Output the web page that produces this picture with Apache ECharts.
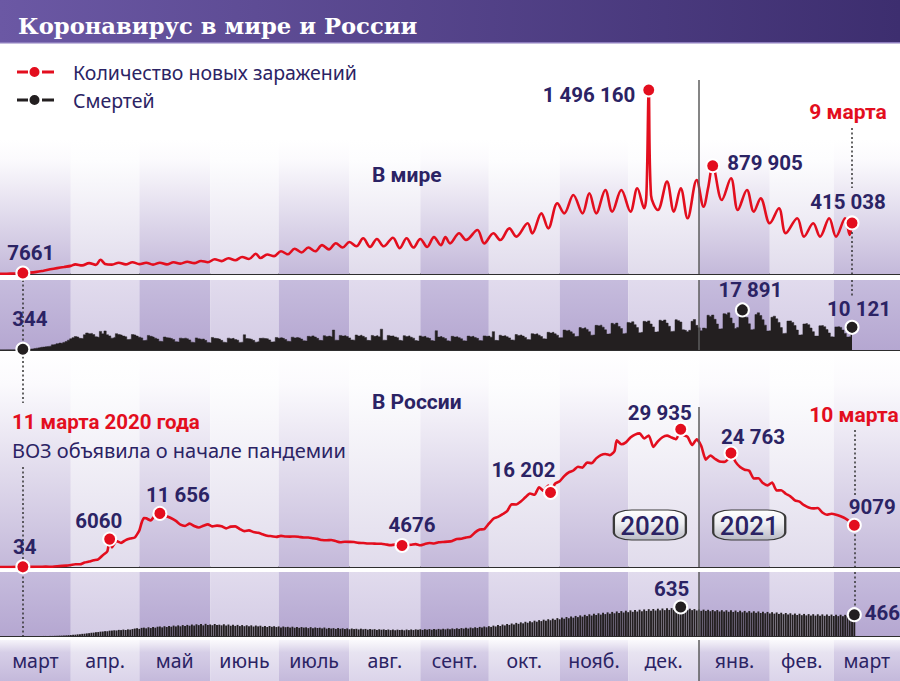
<!DOCTYPE html>
<html><head><meta charset="utf-8">
<script src="https://cdn.jsdelivr.net/npm/echarts@6/dist/echarts.min.js"></script>
<style>html,body{margin:0;padding:0;background:#fff}#c{width:900px;height:681px}</style>
</head><body><div id="c"></div>
<script>
// x values are day numbers counted from 1 March 2020 (day 0)
const monthNames = ['март','апр.','май','июнь','июль','авг.','сент.','окт.','нояб.','дек.','янв.','фев.','март'];
const monthStartDays = [0,31,61,92,122,153,184,214,245,275,306,337,365,394];
const yearStartDay = 306;      // 1 January 2021
const whoDay = 10;             // 11 March 2020
const lastWorldDay = 373;      // 9 March 2021
const lastRussiaDay = 374;     // 10 March 2021
const yearLabels = [['2020', 284.5], ['2021', 328]];

// World: new cases per day [day, cases]
const worldCases = [[0,1600],[3,2400],[6,3800],[8,4300],[10,7661],[13,11000],[16,17000],[19,27000],[22,38000],[25,48000],[28,57000],[31,66000],[33,78000],[36,70000],[39,88000],[42,74000],[44,116000],[46,82000],[49,76000],[52,92000],[55,78000],[58,96000],[61,80000],[64,92000],[67,76000],[70,92000],[73,78000],[76,96000],[79,84000],[82,100000],[85,88000],[88,106000],[91,96000],[94,120000],[97,105000],[100,128000],[103,112000],[106,138000],[109,122000],[112,165000],[114,130000],[117,158000],[120,145000],[123,185000],[126,160000],[129,205000],[132,175000],[135,215000],[138,185000],[141,235000],[144,200000],[147,250000],[150,215000],[153,260000],[156,225000],[159,290000],[162,220000],[165,285000],[168,225000],[172,295000],[175,210000],[178,290000],[181,215000],[184,285000],[187,220000],[190,300000],[193,235000],[195,300000],[197,249000],[201,331000],[204,276000],[209,358000],[212,249000],[216,331000],[219,276000],[223,371000],[226,304000],[231,412000],[233,330000],[237,493000],[240,371000],[244,575000],[247,493000],[251,642000],[255,493000],[258,656000],[261,493000],[265,683000],[268,507000],[272,683000],[276,507000],[279,697000],[282,534000],[283,650000],[284,1496160],[285,640000],[288,520000],[292,751000],[295,507000],[298,697000],[301,453000],[305,764000],[308,547000],[310,700000],[312,879905],[316,602000],[320,778000],[323,520000],[327,683000],[330,507000],[333,615000],[337,412000],[341,534000],[344,331000],[349,453000],[352,304000],[356,412000],[359,304000],[363,453000],[366,304000],[370,453000],[372,318000],[373,415038]];

// World: deaths per day, index = day number
const worldDeathsDaily = [
60,70,80,90,100,100,110, 110,200,230,270,344,380,420, 500,680,830,970,1200,1300,1500,
1600,1700,2300,2400,2800,3100,3000, 3400,3800,4400,5000,5500,6000,5800, 5200,5100,6800,7600,7300,7400,6900,
5900,5700,8300,7200,8500,6800,6300, 5300,5600,7300,6900,6700,6200,5900, 4700,4800,6900,6700,6200,5700,5400,
4200,4400,6500,6100,5800,5300,4900, 3900,3800,5800,5500,5400,5100,4700, 3700,3600,5300,5100,5300,5000,4500,
3500,3300,5400,5000,4800,4900,4300, 3400,3200,5600,5200,5100,4900,4300, 3500,3300,5300,5000,5200,4700,4400,
3400,3500,6800,5100,5000,4800,4300, 3500,3700,5200,5300,5100,5000,4500, 3600,3700,5600,5300,5500,5200,4700,
3900,3800,5700,5400,5600,5400,4900, 4100,4000,6100,5900,6300,5800,5200, 4300,4200,6400,6000,6200,5900,8900,
4400,4300,6500,6200,6400,6000,5400, 4500,4400,6700,6300,6600,6100,5600, 4300,4200,6500,6100,6400,5900,9300,
4400,4300,6500,6200,6300,5800,5500, 4300,4100,6400,6000,6300,5700,5300, 4200,4000,6300,5900,6100,5500,5200,
4200,4000,8600,5800,6000,5600,5100, 4100,3900,6100,5800,5900,5500,5000, 4100,4000,6200,5900,6100,5600,5200,
4200,4100,6300,6100,6200,5700,8200, 4300,4200,6600,6200,6400,5900,5400, 4500,4400,6900,6500,6700,6200,5600,
4700,4600,7300,7000,7200,6600,6000, 5000,4900,7900,7600,7900,7200,6600, 5500,5500,8900,8600,8800,8100,7300,
6000,6100,10000,9600,9900,9200,8200, 6600,6700,11000,10800,11100,10200,9000, 7100,7200,11900,11500,12000,10500,9600,
7300,7500,12300,12100,12600,11300,10000, 7700,7900,12800,12500,13000,11600,10300, 8000,8200,13300,12900,13400,12000,10600,
8300,8400,13500,13100,12500,9000,8800, 8200,8800,12800,13600,11000,9900,8600, 9800,9600,15500,15000,15600,13700,11600,
9400,9500,16200,15900,16600,14300,11900, 9600,10100,16800,17891,16400,14500,11700, 9000,9300,15800,16600,15400,13500,11100,
8500,8600,14600,15100,13900,12300,10000, 7400,7500,12900,13000,12300,10900,8900, 6700,6800,11600,11800,11300,9800,8200,
6200,6200,10800,10900,10400,9100,7600, 5900,5800,10300,10400,10100,8900,7400, 5800,5900,10121];

// Russia: new cases per day [day, cases]
const russiaCases = [[0,0],[5,3],[10,34],[14,28],[17,60],[20,71],[23,57],[26,196],[29,302],[31,440],[33,601],[35,582],[37,954],[39,1175],[41,1459],[43,1667],[45,2558],[47,3448],[48,6060],[49,4268],[51,5642],[53,5236],[55,5849],[57,6198],[59,6411],[60,7099],[61,7933],[62,9623],[63,10633],[64,10581],[66,10102],[68,11231],[69,10817],[70,11656],[72,10899],[73,11012],[75,10598],[77,10028],[79,9200],[81,8926],[83,9434],[85,8915],[87,8572],[89,8952],[91,9268],[93,8831],[95,8985],[97,8855],[99,8404],[101,8779],[103,8835],[105,8248],[107,7790],[109,7972],[111,7600],[113,7425],[115,7113],[117,6800],[119,6693],[121,6556],[123,6760],[125,6632],[127,6611],[129,6635],[131,6537],[133,6422],[135,6428],[137,6248],[139,6109],[141,5862],[143,5811],[145,5871],[147,5635],[149,5395],[151,5482],[153,5462],[155,5427],[157,5241],[159,5212],[161,5118],[163,5102],[165,5065],[167,5061],[169,4892],[171,4748],[173,4870],[175,4852],[176,4676],[178,4711],[180,4829],[182,4980],[184,4729],[186,4995],[188,5205],[190,5099],[192,5363],[194,5449],[196,5509],[198,5670],[200,6065],[202,6148],[204,6431],[206,6595],[208,7523],[210,8135],[212,8232],[214,9412],[216,10499],[218,10888],[220,11493],[222,12126],[224,13634],[226,13592],[228,14231],[230,15150],[232,15982],[234,15700],[236,17340],[238,16550],[240,17717],[241,16202],[243,18140],[245,18648],[247,19768],[249,20582],[251,20977],[253,21798],[255,21608],[257,22702],[259,22572],[261,23610],[263,24318],[265,24581],[267,24326],[269,25173],[270,27543],[272,26683],[274,27100],[276,28145],[278,28782],[280,29039],[282,27927],[284,28585],[286,26097],[288,27328],[290,28209],[292,28552],[294,28137],[296,27787],[298,29935],[299,28776],[301,28284],[303,26513],[305,27747],[307,26301],[309,23351],[311,24246],[313,23541],[315,22934],[317,22851],[319,23652],[320,24763],[322,22857],[324,21734],[326,21152],[328,20921],[330,19238],[332,19290],[334,18241],[336,17741],[338,18359],[340,16643],[342,16688],[344,15916],[346,15363],[348,14494],[350,14207],[352,13433],[354,12953],[356,12742],[358,12828],[360,11843],[362,11359],[364,11571],[366,11385],[368,11024],[370,10595],[372,9908],[374,9079]];

// Russia: deaths per day, index = day number
const russiaDeathsDaily = [
0,0,0,0,0,0,0,0,0,0, 0,0,0,0,0,0,0,0,0,1, 1,1,2,2,4,5,8,9,13,14, 18,21,27,29,36,38,47,50,57,62,
71,74,83,86,95,98,106,104,117,119, 125,121,134,129,140,131,145,139,152,163, 171,156,178,183,168,191,174,197,182,203,
208,189,214,197,221,203,228,209,233,212, 239,219,243,225,251,229,256,238,262,233, 266,241,252,236,263,239,248,233,257,229,
251,224,246,221,243,217,239,215,235,211, 233,207,229,211,225,201,221,197,219,201, 214,196,209,188,207,193,201,185,203,181,
198,179,196,183,190,172,193,170,187,175, 182,166,185,161,176,163,172,155,174,158, 168,152,166,147,163,151,158,143,160,146,
155,139,152,141,149,133,147,137,145,131, 142,129,141,126,139,131,137,125,141,129, 143,130,145,134,147,133,149,139,151,137,
153,141,155,143,158,145,161,149,165,151, 169,155,173,161,178,163,185,170,191,176, 199,184,207,191,215,199,227,209,238,219,
251,231,263,243,275,253,287,266,299,277, 311,290,323,301,335,313,347,326,357,334, 367,345,379,354,391,366,403,378,415,389,
427,401,439,413,451,424,463,436,475,447, 487,459,497,468,507,479,517,487,527,497, 537,505,545,514,553,521,561,529,567,535,
575,541,581,548,587,553,591,558,597,562, 601,566,605,571,609,575,613,579,635,588, 603,571,597,566,589,559,581,551,577,549,
573,543,569,539,567,536,565,534,563,530, 561,527,557,523,553,519,549,515,545,511, 541,507,537,503,531,497,527,493,521,489,
515,483,509,477,503,471,497,465,491,459, 487,455,483,451,479,447,477,445,475,443, 473,441,471,439,469,437,467,435,465,433,
463,433,461,437,466];

// Highlighted values [day, value, text]
const worldCaseNotes = [[10,7661,'7661'],[284,1496160,'1 496 160'],[312,879905,'879 905'],[373,415038,'415 038']];
const worldDeathNotes = [[10,344,'344'],[325,17891,'17 891'],[373,10121,'10 121']];
const russiaCaseNotes = [[10,34,'34'],[48,6060,'6060'],[70,11656,'11 656'],[176,4676,'4676'],[241,16202,'16 202'],[298,29935,'29 935'],[320,24763,'24 763'],[374,9079,'9079']];
const russiaDeathNotes = [[298,635,'635'],[374,466,'466']];

const NAVY = '#2b2364', RED = '#e30e1e', BLACK = '#231f20';
const NUMFONT = "Roboto, 'Noto Sans', sans-serif";
const TXTFONT = "'Noto Sans', 'Open Sans', sans-serif";
const BOLDFONT = "Roboto, 'Noto Sans', sans-serif";

const worldDeaths = worldDeathsDaily.map((v, d) => [d, v]);
const russiaDeaths = russiaDeathsDaily.map((v, d) => [d, v]);

function grad(stops, horiz) {
  return {type:'linear', x:0, y:0, x2: horiz ? 1 : 0, y2: horiz ? 0 : 1,
    colorStops: stops.map(s => ({offset:s[0], color:s[1]}))};
}
const CASE_DARK = grad([[0,'#ffffff'],[0.15,'#fbfafd'],[1,'#c4b9da']]);
const CASE_LIGHT = grad([[0,'#ffffff'],[0.15,'#fdfdfe'],[1,'#e1dcec']]);
const DEATH_DARK = grad([[0,'#c6bcdd'],[1,'#b5a7d1']]);
const DEATH_LIGHT = grad([[0,'#e1dbed'],[1,'#d4cce5']]);
const ROW_DARK = grad([[0,'#f6f4fa'],[0.3,'#d6cee7'],[1,'#c4b9db']]);
const ROW_LIGHT = grad([[0,'#fbfafd'],[0.3,'#e8e4f1'],[1,'#dbd4ea']]);

function stripes(topVal, dark, light) {
  return monthNames.map((n, i) => {
    const a = {name: n, xAxis: monthStartDays[i], itemStyle: {color: i % 2 ? light : dark}};
    const b = {xAxis: monthStartDays[i + 1]};
    if (topVal != null) { a.yAxis = topVal; b.yAxis = 0; }
    return [a, b];
  });
}
const YEAR_STYLE = {type:'solid', color:'#5d5d5d', width:1.5};
const DOT_STYLE = {color:'#333', width:1.5, type:[2,2.5]};
function seg(x, v1, v2, style) {
  return [{coord:[x, v1], lineStyle: style || DOT_STYLE}, {coord:[x, v2], lineStyle: style || DOT_STYLE}];
}
function notes(list, places) {
  return list.map((n, i) => ({name: n[2], coord: [n[0], n[1]], value: n[1], label: places[i]}));
}
function markerPoints(color, list, places, extra) {
  return {
    symbol: 'circle', symbolSize: 13, z: 6,
    itemStyle: {color: color, borderColor: '#fff', borderWidth: 2},
    label: {show: true, formatter: '{b}', fontFamily: NUMFONT, fontSize: 20.5, fontWeight: 'bold', color: NAVY, distance: 2},
    data: notes(list, places).concat(extra || [])
  };
}
const T = (dx, dy) => ({position: 'top', offset: [dx, dy]});
const LEGEND_ICON = 'path://M0,5H11V8H0Z M22.5,6.5A5,5 0 1,0 12.5,6.5A5,5 0 1,0 22.5,6.5Z M25,5H37V8H25Z M51,0 M51,13';

const grids = [
  {left:0, right:0, top:80, height:194},
  {left:0, right:0, top:280, height:70},
  {left:0, right:0, top:352, height:215},
  {left:0, right:0, top:572, height:64},
  {left:0, right:0, top:640, height:41}
];
const yMax = [1577000, 31250, 46740, 1400, 1];

const option = {
  animation: false,
  backgroundColor: '#ffffff',
  title: {text: 'Коронавирус в мире и России', left: 13, top: 9,
    textStyle: {fontFamily: "'DejaVu Serif', serif", fontWeight: 'bold', fontSize: 22.7, color: '#ffffff'}},
  legend: {
    left: 12, top: 57, orient: 'vertical', itemWidth: 51, itemHeight: 13, itemGap: 8, selectedMode: false,
    textStyle: {fontSize: 19.5, color: NAVY, fontFamily: TXTFONT},
    data: [
      {name: 'Количество новых заражений', icon: LEGEND_ICON},
      {name: 'Смертей', icon: LEGEND_ICON}
    ]
  },
  grid: grids,
  xAxis: grids.map((g, i) => ({
    type: 'value', gridIndex: i, min: 0, max: 394,
    axisLine: {show: i < 4, lineStyle: {color: '#2e2e2e', width: 2}},
    axisTick: {show: false}, axisLabel: {show: false}, splitLine: {show: false}
  })),
  yAxis: grids.map((g, i) => ({
    type: 'value', gridIndex: i, min: 0, max: yMax[i], show: false, splitLine: {show: false}
  })),
  graphic: [
    {type: 'rect', z: 0, shape: {x: 0, y: 0, width: 900, height: 42},
      style: {fill: grad([[0,'#6b58a4'],[1,'#3d2e6f']], true)}},
    {type: 'rect', z: 0, shape: {x: 0, y: 42, width: 900, height: 1.5}, style: {fill: '#8c7cbd'}},
    {type: 'text', z: 10, x: 372, y: 175, style: {text: 'В мире', fontFamily: BOLDFONT, fontWeight: 'bold', fontSize: 21, fill: NAVY, verticalAlign: 'middle'}},
    {type: 'text', z: 10, x: 372, y: 402, style: {text: 'В России', fontFamily: BOLDFONT, fontWeight: 'bold', fontSize: 21, fill: NAVY, verticalAlign: 'middle'}},
    {type: 'text', z: 10, x: 12, y: 422, style: {text: '11 марта 2020 года', fontFamily: BOLDFONT, fontWeight: 'bold', fontSize: 20.5, fill: RED, verticalAlign: 'middle'}},
    {type: 'text', z: 10, x: 12, y: 450, style: {text: 'ВОЗ объявила о начале пандемии', fontFamily: TXTFONT, fontSize: 20, fill: NAVY, verticalAlign: 'middle'}},
    {type: 'text', z: 10, x: 848, y: 112, style: {text: '9 марта', fontFamily: BOLDFONT, fontWeight: 'bold', fontSize: 21, fill: RED, align: 'center', verticalAlign: 'middle'}},
    {type: 'text', z: 10, x: 854, y: 415, style: {text: '10 марта', fontFamily: BOLDFONT, fontWeight: 'bold', fontSize: 21, fill: RED, align: 'center', verticalAlign: 'middle'}}
  ],
  series: [
    {
      name: 'Количество новых заражений', type: 'line', xAxisIndex: 0, yAxisIndex: 0,
      data: worldCases, smooth: 0.35, showSymbol: false, symbol: 'circle', color: RED,
      lineStyle: {width: 2.6, color: RED}, z: 3,
      markArea: {silent: true, label: {show: false}, data: stripes(1090000, CASE_DARK, CASE_LIGHT)},
      markLine: {silent: true, symbol: ['none','none'], label: {show: false}, lineStyle: DOT_STYLE,
        data: [
          {xAxis: yearStartDay, lineStyle: YEAR_STYLE},
          seg(lastWorldDay, 1187000, 699000),
          seg(lastWorldDay, 415038, 0)
        ]},
      markPoint: markerPoints(RED, worldCaseNotes, [
        T(8, 0),
        {position: 'left', distance: 6, offset: [0, 5]},
        {position: 'right', distance: 7, offset: [0, -3]},
        T(-4, -1)
      ])
    },
    {
      name: 'Смертей', type: 'line', xAxisIndex: 1, yAxisIndex: 1,
      data: worldDeaths, step: 'middle', showSymbol: false, symbol: 'circle', color: BLACK,
      lineStyle: {width: 0.5, color: BLACK}, areaStyle: {color: BLACK, opacity: 1}, z: 3,
      markArea: {silent: true, label: {show: false}, data: stripes(null, DEATH_DARK, DEATH_LIGHT)},
      markLine: {silent: true, symbol: ['none','none'], label: {show: false}, lineStyle: DOT_STYLE,
        data: [
          {xAxis: yearStartDay, lineStyle: YEAR_STYLE},
          seg(whoDay, 31250, 344),
          seg(lastWorldDay, 31250, 23214)
        ]},
      markPoint: markerPoints(BLACK, worldDeathNotes, [T(7, -10), T(8, 0), T(7, 2)])
    },
    {
      name: 'Количество новых заражений', type: 'line', xAxisIndex: 2, yAxisIndex: 2,
      data: russiaCases, smooth: 0.2, showSymbol: false, symbol: 'circle', color: RED,
      lineStyle: {width: 2.6, color: RED}, z: 3,
      markArea: {silent: true, label: {show: false}, data: stripes(null, CASE_DARK, CASE_LIGHT)},
      markLine: {silent: true, symbol: ['none','none'], label: {show: false}, lineStyle: DOT_STYLE,
        data: [
          seg(yearStartDay, 34800, 0, YEAR_STYLE),
          seg(whoDay, 46740, 35652),
          seg(whoDay, 21739, 34),
          seg(lastRussiaDay, 29783, 15217),
          seg(lastRussiaDay, 9079, 0)
        ]},
      markPoint: markerPoints(RED, russiaCaseNotes, [
        T(2, 0), T(-11, 2), T(18, 2), T(10, 0), T(-27, -2), T(-21, 4), T(22, 4), T(18, 2)
      ], yearLabels.map(y => ({
        name: y[0], coord: [y[1], 9130], symbol: 'roundRect', symbolSize: [72, 30],
        itemStyle: {color: grad([[0,'#ffffff'],[0.45,'#eeeef2'],[1,'#b9bac4']]), borderColor: '#3a3a3a', borderWidth: 1.5},
        label: {position: 'inside', fontFamily: NUMFONT, fontSize: 26, fontWeight: 500, color: NAVY, offset: [0, 1]}
      })))
    },
    {
      name: 'Смертей', type: 'bar', xAxisIndex: 3, yAxisIndex: 3,
      data: russiaDeaths, barWidth: 1.9, color: BLACK, itemStyle: {color: BLACK}, z: 3,
      markArea: {silent: true, label: {show: false}, data: stripes(null, DEATH_DARK, DEATH_LIGHT)},
      markLine: {silent: true, symbol: ['none','none'], label: {show: false}, lineStyle: DOT_STYLE,
        data: [
          {xAxis: yearStartDay, lineStyle: YEAR_STYLE},
          seg(whoDay, 1400, 0),
          seg(lastRussiaDay, 1400, 466)
        ]},
      markPoint: markerPoints(BLACK, russiaDeathNotes, [T(-9, 2), {position: 'right', distance: 3, offset: [0, -2]}])
    },
    {
      name: 'months', type: 'line', xAxisIndex: 4, yAxisIndex: 4, data: [], showSymbol: false,
      markArea: {silent: true,
        label: {show: true, position: 'inside', fontFamily: TXTFONT, fontSize: 19.5, color: NAVY},
        data: stripes(null, ROW_DARK, ROW_LIGHT)},
      markLine: {silent: true, symbol: ['none','none'], label: {show: false},
        data: [{xAxis: yearStartDay, lineStyle: YEAR_STYLE}]}
    }
  ]
};
const chart = echarts.init(document.getElementById('c'), null, {renderer: 'svg'});
chart.setOption(option);
</script></body></html>
